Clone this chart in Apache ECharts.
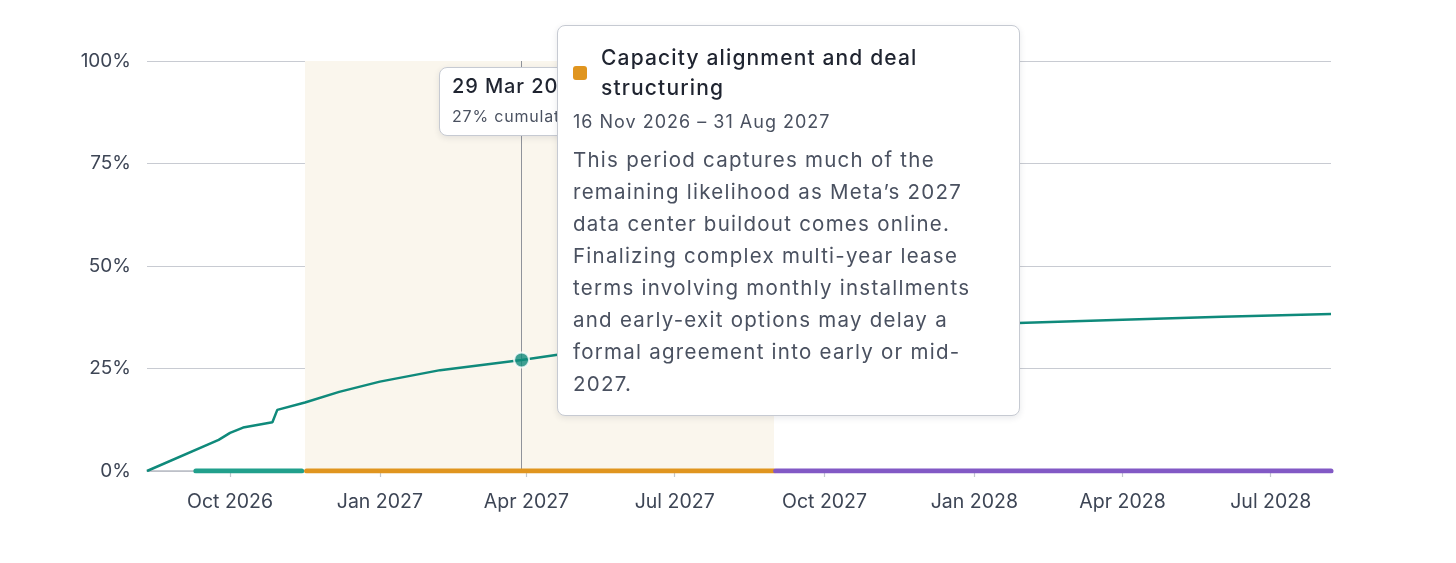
<!DOCTYPE html>
<html>
<head>
<meta charset="utf-8">
<script src="https://cdn.jsdelivr.net/npm/echarts@6/dist/echarts.min.js"></script>
<style>
  html, body { margin:0; padding:0; background:#fff; }
  #wrap { position:relative; width:1456px; height:563px; }
  #chart { position:absolute; left:0; top:0; width:1456px; height:563px; }
  .tip { position:absolute; background:#fff; border:1.5px solid #c6cad2; border-radius:8px;
         box-shadow:0 2px 6px rgba(30,40,60,0.10); font-family:Inter, "Noto Sans", sans-serif; box-sizing:border-box; overflow:hidden; }
  .ln { position:absolute; white-space:nowrap; }
</style>
</head>
<body>
<div id="wrap">
  <div id="chart"></div>
  <div class="tip" id="tipSmall" style="left:439px;top:67px;width:260px;height:69px;">
    <div class="ln" style="left:12px;top:6px;font-size:20px;font-weight:500;letter-spacing:0.9px;color:#1f2430;">29 Mar 2027</div>
    <div class="ln" style="left:12px;top:38px;font-size:16px;letter-spacing:0.8px;color:#4a5160;">27% cumulative probability</div>
  </div>
  <div class="tip" id="tipBig" style="left:557px;top:25px;width:463px;height:391px;">
    <div style="position:absolute;left:15px;top:40px;width:14px;height:14px;border-radius:3px;background:#e0951f;"></div>
    <div class="ln" style="left:43px;top:17px;font-size:21px;font-weight:500;letter-spacing:1.15px;color:#1f2430;line-height:30px;">Capacity alignment and deal<br>structuring</div>
    <div class="ln" style="left:15px;top:85px;font-size:18px;letter-spacing:1px;color:#4a5160;">16 Nov 2026 – 31 Aug 2027</div>
    <div class="ln" style="left:15px;top:118px;font-size:20.5px;letter-spacing:1.25px;color:#4a5160;line-height:32px;">This period captures much of the<br>remaining likelihood as Meta’s 2027<br>data center buildout comes online.<br>Finalizing complex multi-year lease<br>terms involving monthly installments<br>and early-exit options may delay a<br>formal agreement into early or mid-<br>2027.</div>
  </div>
</div>
<script>
// ---- data ----
const lineDates = ['2026-08-11','2026-09-24','2026-10-01','2026-10-09','2026-10-27','2026-10-30','2026-11-16','2026-12-07','2027-01-01','2027-02-07','2027-03-29','2027-04-19','2027-05-20','2027-07-01','2027-08-01','2027-08-31','2027-10-01','2027-12-01','2028-01-28','2028-04-01','2028-06-01','2028-08-07'];
const lineValues = [0, 7.6, 9.3, 10.6, 11.9, 14.9, 16.7, 19.3, 21.8, 24.6, 27.1, 28.3, 29.8, 31.6, 32.9, 34.0, 34.6, 35.4, 36.1, 36.9, 37.6, 38.3];
const focusDate = '2027-03-29';
const focusValue = 27.1;
const phaseNames = ['Early discussions', 'Capacity alignment and deal structuring', 'Later period'];
const phaseStarts = ['2026-09-10', '2026-11-17', '2027-09-01'];
const phaseEnds = ['2026-11-14', '2027-08-31', '2028-08-07'];
const phaseColors = ['#21a08c', '#e0951f', '#8259c5'];
const highlightStart = '2026-11-16';
const highlightEnd = '2027-08-31';
const xMin = '2026-08-11';
const xMax = '2028-08-07';
const tickDates = ['2026-10-01','2027-01-01','2027-04-01','2027-07-01','2027-10-01','2028-01-01','2028-04-01','2028-07-01'];
const tickLabels = ['Oct 2026','Jan 2027','Apr 2027','Jul 2027','Oct 2027','Jan 2028','Apr 2028','Jul 2028'];
const yTicks = [0, 25, 50, 75, 100];

// ---- chart ----
const ts = d => new Date(d + 'T00:00:00Z').getTime();
const chart = echarts.init(document.getElementById('chart'), null, {renderer:'canvas'});
const labelMap = {};
tickDates.forEach((d,i) => labelMap[ts(d)] = tickLabels[i]);

const series = [];
series.push({
  type:'line', name:'Cumulative', data: lineDates.map((d,i)=>[ts(d), lineValues[i]]),
  showSymbol:false, symbol:'none', smooth:false,
  lineStyle:{color:'#0f8a7b', width:2.5}, z:5,
  markArea:{ silent:true, itemStyle:{color:'#faf6ed'}, data:[[{xAxis: ts(highlightStart)},{xAxis: ts(highlightEnd)}]] },
  markLine:{ silent:true, symbol:['none','none'], label:{show:false},
    lineStyle:{color:'#8f939b', width:1, type:'solid'}, data:[{xAxis: ts(focusDate)}] }
});
phaseNames.forEach((n,i)=>{
  series.push({
    type:'line', name:n, data:[[ts(phaseStarts[i]),0],[ts(phaseEnds[i]),0]],
    showSymbol:false, symbol:'none', lineStyle:{color:phaseColors[i], width:5, cap:'round'}, z:6
  });
});
series.push({
  type:'scatter', data:[[ts(focusDate), focusValue]], symbolSize:15, zlevel:1,
  itemStyle:{color:'#0f8a7b', borderColor:'#fff', borderWidth:2}, z:7
});

chart.setOption({
  animation:false,
  grid:{left:147, right:125, top:61, bottom:92, containLabel:false},
  xAxis:{
    type:'value', min:ts(xMin), max:ts(xMax),
    axisLine:{show:true, lineStyle:{color:'#b9bdc5', width:1.5}},
    axisTick:{show:true, customValues: tickDates.map(ts), length:6, lineStyle:{color:'#c3c7ce', width:1.2}},
    axisLabel:{show:true, customValues: tickDates.map(ts), formatter: v => labelMap[v] || '', color:'#3d4555', fontSize:19.5, fontFamily:'Inter', margin:21, hideOverlap:false},
    splitLine:{show:false}
  },
  yAxis:{
    type:'value', min:0, max:100, interval:25,
    axisLine:{show:false}, axisTick:{show:false},
    axisLabel:{formatter:'{value}%', color:'#3d4555', fontSize:19, fontFamily:'Inter', margin:16},
    splitLine:{show:true, lineStyle:{color:'#c8cbd2', width:1.2}}
  },
  series: series
});
</script>
</body>
</html>
